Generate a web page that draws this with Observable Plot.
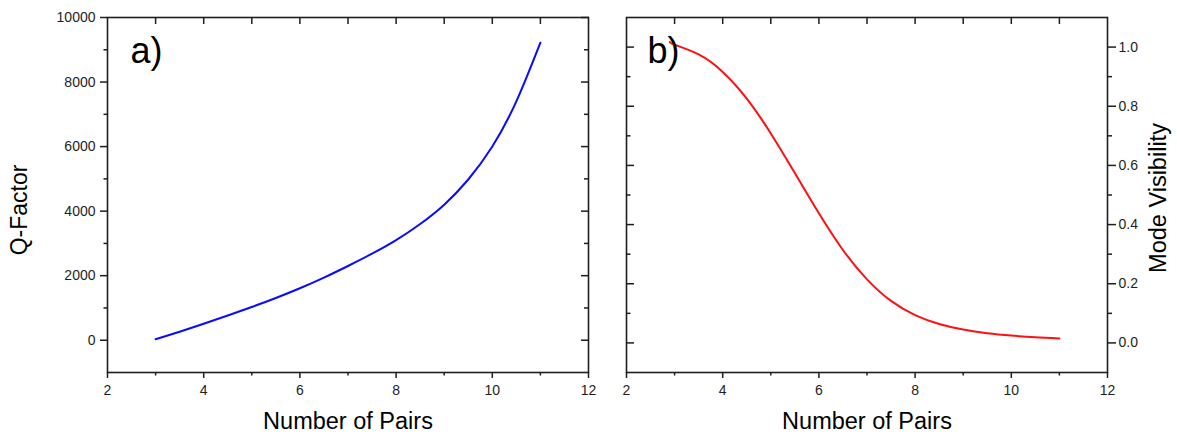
<!DOCTYPE html>
<html><head><meta charset="utf-8">
<script src="https://cdn.jsdelivr.net/npm/d3@7"></script>
<script src="https://cdn.jsdelivr.net/npm/@observablehq/plot@0.6"></script>
<style>
body{margin:0;background:#fff;}
#wrap{position:relative;width:1177px;height:435px;overflow:hidden;background:#fff;}
</style></head><body>
<div id="wrap"><div id="pa" style="position:absolute;left:0;top:0"></div><div id="pb" style="position:absolute;left:600px;top:0"></div></div>
<script>
// ---- data ----
const pairsQ = [3, 3.5, 4, 4.5, 5, 5.5, 6, 6.5, 7, 7.5, 8, 8.5, 9, 9.5, 10, 10.5, 11];
const qFactor = [30, 265, 510, 765, 1030, 1310, 1610, 1940, 2300, 2680, 3100, 3600, 4200, 4980, 6000, 7400, 9220];
const pairsV = [2.9, 3, 3.5, 4, 4.5, 5, 5.5, 6, 6.5, 7, 7.5, 8, 8.5, 9, 9.5, 10, 10.5, 11];
const visibility = [1.017, 1.008, 0.975, 0.916, 0.826, 0.708, 0.574, 0.438, 0.314, 0.215, 0.142, 0.094, 0.064, 0.045, 0.033, 0.025, 0.019, 0.015];
const xMajor = [2, 4, 6, 8, 10, 12];
const xMinor = [3, 5, 7, 9, 11];
const xTop = [3, 4, 5, 6, 7, 8, 9, 10, 11];
const qMajor = [0, 2000, 4000, 6000, 8000, 10000];
const qMinor = [1000, 3000, 5000, 7000, 9000];
const vMajor = [0, 0.2, 0.4, 0.6, 0.8, 1.0];
const vMinor = [0.1, 0.3, 0.5, 0.7, 0.9];
const xTitle = "Number of Pairs";
const qTitle = "Q-Factor";
const vTitle = "Mode Visibility";
const panelA = "a)";
const panelB = "b)";

const ink = "#1e1e1e";
const font = "'Liberation Sans', Arial, sans-serif";
const style = {fontFamily: font, fontSize: "14px", color: ink, background: "white", overflow: "visible"};
const blank = () => "";

const left = Plot.plot({
  width: 600, height: 435,
  marginLeft: 107, marginRight: 12, marginTop: 17, marginBottom: 63,
  x: {domain: [2, 12]},
  y: {domain: [-1000, 10000]},
  style,
  marks: [
    Plot.axisX(xMajor, {anchor: "bottom", tickSize: 6, tickPadding: 7, tickFormat: "d", label: null, strokeWidth: 1.5}),
    Plot.axisX(xMinor, {anchor: "bottom", tickSize: 3.5, tickFormat: blank, label: null, strokeWidth: 1.5}),
    Plot.axisX(xTop, {anchor: "top", tickSize: -6, tickFormat: blank, label: null, strokeWidth: 1.5}),
    Plot.axisY(qMajor, {anchor: "left", tickSize: 7, tickPadding: 5, tickFormat: d => String(d), label: null, strokeWidth: 1.5}),
    Plot.axisY(qMinor, {anchor: "left", tickSize: 3.5, tickFormat: blank, label: null, strokeWidth: 1.5}),
    Plot.axisY(qMajor, {anchor: "right", tickSize: -8, tickFormat: blank, label: null, strokeWidth: 1.5}),
    Plot.axisY(qMinor, {anchor: "right", tickSize: -5, tickFormat: blank, label: null, strokeWidth: 1.5}),
    Plot.frame({stroke: ink, strokeWidth: 1.6}),
    Plot.line(pairsQ.map((x, i) => ({x, v: qFactor[i]})), {x: "x", y: "v", stroke: "#0a0aff", strokeWidth: 2, curve: "natural"}),
    Plot.text([panelA], {text: d => d, frameAnchor: "top-left", dx: 23, dy: 20, lineAnchor: "top", textAnchor: "start", fontSize: 36, fill: "#000"}),
    Plot.text([xTitle], {text: d => d, frameAnchor: "bottom", dy: 49, lineAnchor: "middle", fontSize: 23.5, fill: "#000"}),
    Plot.text([qTitle], {text: d => d, frameAnchor: "left", dx: -88, dy: 15, rotate: -90, lineAnchor: "middle", textAnchor: "middle", fontSize: 23, fill: "#000"})
  ]
});
document.getElementById("pa").appendChild(left);

const right = Plot.plot({
  width: 577, height: 435,
  marginLeft: 26, marginRight: 70, marginTop: 17, marginBottom: 63,
  x: {domain: [2, 12]},
  y: {domain: [-0.1, 1.1]},
  style,
  marks: [
    Plot.axisX(xMajor, {anchor: "bottom", tickSize: 6, tickPadding: 7, tickFormat: "d", label: null, strokeWidth: 1.5}),
    Plot.axisX(xMinor, {anchor: "bottom", tickSize: 3.5, tickFormat: blank, label: null, strokeWidth: 1.5}),
    Plot.axisX(xTop, {anchor: "top", tickSize: -6, tickFormat: blank, label: null, strokeWidth: 1.5}),
    Plot.axisY(vMajor, {anchor: "right", tickSize: 8, tickPadding: 3, tickFormat: ".1f", label: null, strokeWidth: 1.5}),
    Plot.axisY(vMinor, {anchor: "right", tickSize: 4, tickFormat: blank, label: null, strokeWidth: 1.5}),
    Plot.axisY(vMajor, {anchor: "left", tickSize: -8, tickFormat: blank, label: null, strokeWidth: 1.5}),
    Plot.axisY(vMinor, {anchor: "left", tickSize: -4.5, tickFormat: blank, label: null, strokeWidth: 1.5}),
    Plot.frame({stroke: ink, strokeWidth: 1.6}),
    Plot.line(pairsV.map((x, i) => ({x, v: visibility[i]})), {x: "x", y: "v", stroke: "#ff1010", strokeWidth: 2, curve: "natural"}),
    Plot.text([panelB], {text: d => d, frameAnchor: "top-left", dx: 21, dy: 20, lineAnchor: "top", textAnchor: "start", fontSize: 36, fill: "#000"}),
    Plot.text([xTitle], {text: d => d, frameAnchor: "bottom", dy: 49, lineAnchor: "middle", fontSize: 23.5, fill: "#000"}),
    Plot.text([vTitle], {text: d => d, frameAnchor: "right", dx: 51, dy: 3, rotate: -90, lineAnchor: "middle", textAnchor: "middle", fontSize: 23.5, fill: "#000"})
  ]
});
document.getElementById("pb").appendChild(right);
</script>
</body></html>
